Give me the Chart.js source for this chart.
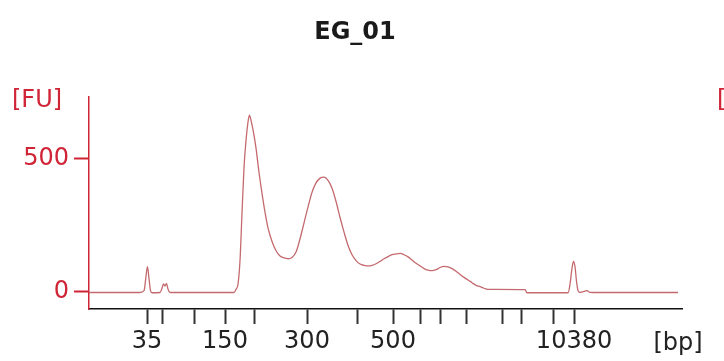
<!DOCTYPE html>
<html>
<head>
<meta charset="utf-8">
<title>EG_01</title>
<script src="https://cdn.jsdelivr.net/npm/chart.js@4.4.1/dist/chart.umd.min.js"></script>
<style>
  body { margin: 0; background: #fff; }
  #wrap { width: 724px; height: 361px; }
</style>
</head>
<body>
<div id="wrap"><canvas id="myChart" width="724" height="361"></canvas></div>
<script>
// electropherogram trace: migration time [s] and fluorescence [FU]
const timeSec = [
  40.0, 46.38, 46.88, 47.13, 47.31, 47.5, 47.69, 47.88, 48.88, 49.13, 49.31, 49.5, 49.69, 49.88, 50.13,
  58.13, 58.38, 58.63, 58.88, 59.13, 59.38, 59.63, 59.88, 60.06, 60.25, 60.5, 60.88, 61.25, 61.63, 62.0,
  62.38, 62.88, 63.38, 63.88, 64.38, 64.88, 65.38, 65.88, 66.38, 66.88, 67.38, 67.88, 68.38, 68.88, 69.38,
  69.88, 70.38, 70.88, 71.38, 71.88, 72.38, 72.88, 73.38, 73.88, 74.38, 74.88, 75.38, 75.88, 76.38, 76.88,
  77.38, 77.88, 78.38, 78.88, 79.38, 79.88, 80.38, 80.88, 81.38, 81.88, 82.38, 82.88, 83.38, 83.88, 84.38,
  84.88, 85.38, 85.88, 86.38, 86.88, 87.38, 87.88, 88.38, 88.88, 89.38, 89.88, 94.5, 94.75, 99.88, 100.13,
  100.38, 100.56, 100.75, 100.94, 101.13, 101.38, 102.0, 102.25, 102.5, 102.88, 113.63
];
const fluor = [
  -2, -2, 5, 60, 95, 50, 5, -3, -2, 15, 30, 22, 32, 10, -2,
  -2, 10, 30, 120, 300, 470, 570, 640, 665, 645, 610, 540, 450, 370, 300,
  240, 190, 155, 135, 128, 125, 130, 150, 200, 260, 320, 375, 410, 428, 432,
  420, 390, 340, 280, 225, 175, 140, 118, 105, 100, 98, 100, 106, 115, 125,
  133, 140, 143, 145, 140, 132, 120, 108, 98, 88, 82, 80, 84, 92, 96,
  94, 88, 78, 66, 55, 45, 35, 25, 20, 14, 10, 9, -3, -3, 30,
  90, 115, 95, 40, 5, -2, 3, 5, 0, -2, -2
];

// ladder peaks (x ticks)
const ladderTimes = [47.25, 49.13, 53.13, 57.0, 60.63, 67.25, 73.5, 78.0, 81.5, 83.88, 87.13, 91.63, 94.0, 98.0, 100.63];
const ladderSizes = [35, 50, 100, 150, 200, 300, 400, 500, 600, 700, 1000, 2000, 3000, 7000, 10380];
const labeledSizes = [35, 150, 300, 500, 10380];

// y ticks
const fuTicks = [0, 500];

const RED = '#cf2536';
const FONT = 'DejaVu Sans';

// title and unit labels
const textPlugin = {
  id: 'textPlugin',
  afterDraw(chart) {
    const ctx = chart.ctx;
    ctx.save();
    ctx.textBaseline = 'middle';
    ctx.font = 'bold 24px "' + FONT + '"';
    ctx.fillStyle = '#1a1a1a';
    ctx.textAlign = 'center';
    ctx.fillText('EG_01', 355, 33);

    ctx.font = '24px "' + FONT + '"';
    ctx.fillStyle = RED;
    ctx.textAlign = 'left';
    ctx.fillText('[FU]', 12, 101);
    // edge of the neighbouring panel
    ctx.fillText('[FU]', 717, 101);

    ctx.fillStyle = '#222';
    ctx.textAlign = 'center';
    ctx.fillText('[bp]', 678, 344);
    ctx.restore();
  }
};

const ctx = document.getElementById('myChart').getContext('2d');
const myChart = new Chart(ctx, {
  type: 'line',
  data: {
    datasets: [{
      data: timeSec.map((t, i) => ({ x: t, y: fluor[i] })),
      borderColor: '#c46a6e',
      borderWidth: 1.3,
      pointRadius: 0,
      cubicInterpolationMode: 'monotone',
      fill: false
    }]
  },
  options: {
    responsive: false,
    animation: false,
    layout: { padding: { top: 97, right: 42, left: 0, bottom: 0 } },
    plugins: {
      legend: { display: false },
      tooltip: { enabled: false },
      title: { display: false }
    },
    scales: {
      x: {
        type: 'linear',
        min: 40,
        max: 114.125,
        afterBuildTicks: (scale) => {
          scale.ticks = ladderTimes.map(v => ({ value: v }));
        },
        afterFit: (scale) => { scale.height = 52; },
        ticks: {
          autoSkip: false,
          maxRotation: 0,
          padding: 3,
          color: '#222',
          font: { family: FONT, size: 24 },
          callback: (value, index) => {
            const s = ladderSizes[index];
            return labeledSizes.includes(s) ? String(s) : '';
          }
        },
        grid: {
          drawOnChartArea: false,
          drawTicks: true,
          tickLength: 15,
          tickColor: '#333',
          tickWidth: 2
        },
        border: { display: true, color: '#111', width: 1.5 }
      },
      y: {
        min: -64,
        max: 733,
        afterBuildTicks: (scale) => {
          scale.ticks = fuTicks.map(v => ({ value: v }));
        },
        afterFit: (scale) => { scale.width = 89; },
        ticks: {
          padding: 5,
          color: RED,
          font: { family: FONT, size: 24 }
        },
        grid: {
          drawOnChartArea: false,
          drawTicks: true,
          tickLength: 15,
          tickColor: RED,
          tickWidth: 2
        },
        border: { display: true, color: RED, width: 1.5 }
      }
    }
  },
  plugins: [textPlugin]
});
</script>
</body>
</html>
